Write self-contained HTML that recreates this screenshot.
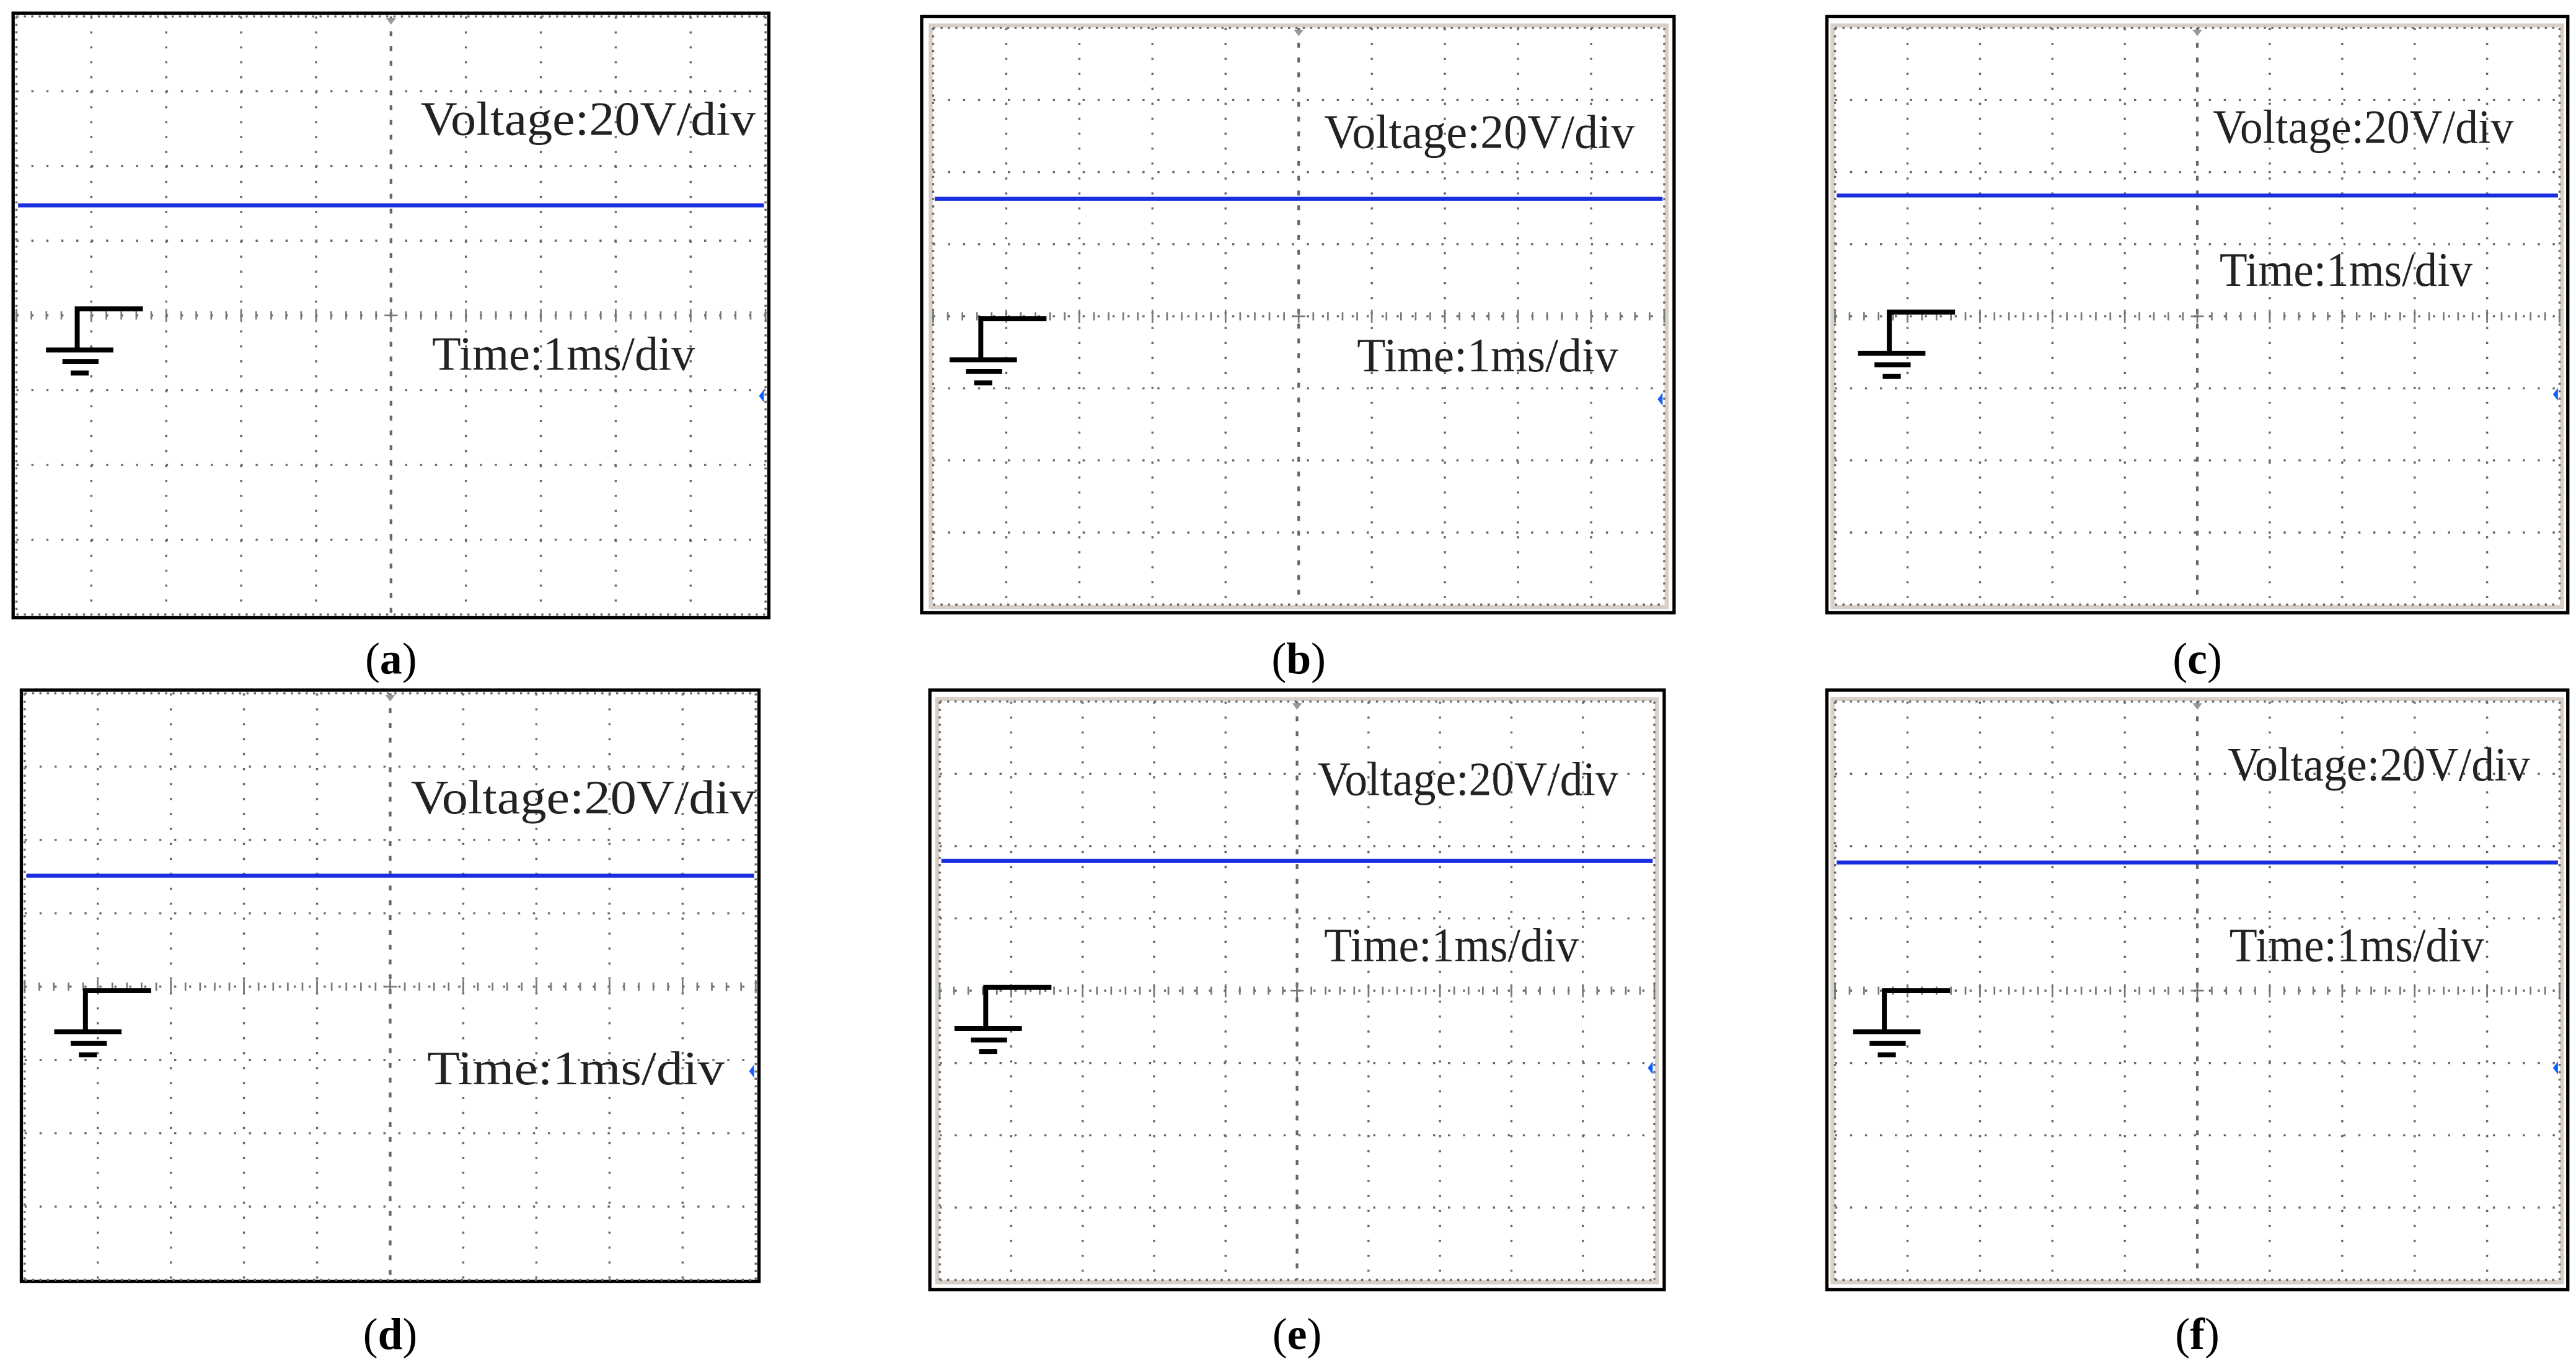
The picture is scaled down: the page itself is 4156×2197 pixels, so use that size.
<!DOCTYPE html>
<html><head><meta charset="utf-8"><style>
html,body{margin:0;padding:0;background:#fff;}
svg{display:block;}
</style></head><body>
<svg id="s" xmlns="http://www.w3.org/2000/svg" width="4156" height="2197" viewBox="0 0 1568 829" preserveAspectRatio="none"></svg>
<script>
const P=[
 {o:[8,8,460,368],g:[10,10,456,364],f:0,blue:125,v:[256,82,204],t:[263,225,160],gnd:[47,188],mk:241,cap:'a',cy:410},
 {o:[561,10,458,363],g:[568,17,445,351],f:1,blue:121,v:[806,90,189],t:[826,226,159],gnd:[597,194],mk:243,cap:'b',cy:410},
 {o:[1112,10,451,363],g:[1117,17,441,351],f:1,blue:119,v:[1347,87,183],t:[1351,174,154],gnd:[1150,190],mk:240,cap:'c',cy:410},
 {o:[13,420,449,360],g:[15,422,445,357],f:0,blue:533,v:[250,495,210],t:[260,660,181],gnd:[52,603],mk:652,cap:'d',cy:821},
 {o:[566,420,447,365],g:[572,427,435,352],f:1,blue:524,v:[802,484,183],t:[806,585,155],gnd:[600,601],mk:650,cap:'e',cy:821},
 {o:[1112,420,451,365],g:[1117,427,441,352],f:1,blue:525,v:[1356,475,184],t:[1357,585,155],gnd:[1147,603],mk:650,cap:'f',cy:821}
];
let h='';
for(const p of P){
 const [ox,oy,ow,oh]=p.o,[gx,gy,gw,gh]=p.g;
 h+=`<rect x="${ox}" y="${oy}" width="${ow}" height="${oh}" fill="#fff" stroke="#000" stroke-width="2"/>`;
 if(p.f) h+=`<rect x="${gx-1.5}" y="${gy-1.5}" width="${gw+3}" height="${gh+3}" fill="none" stroke="#d8d0c8" stroke-width="2.5"/>`;
 const dx=gw/10,dy=gh/8,cx=gx+gw/2,cy=gy+gh/2;
 for(let i=0;i<=10;i++){const x=gx+i*dx;
  h+=`<line x1="${x}" y1="${gy}" x2="${x}" y2="${gy+gh}" stroke="#666" stroke-width="${i==5?1.6:1.3}" stroke-dasharray="${i==5?'3 6':(i==0||i==10?'1.3 3.2':'1.3 7.8')}"/>`;}
 for(let j=0;j<=8;j++){const y=gy+j*dy;
  h+=`<line x1="${gx}" y1="${y}" x2="${gx+gw}" y2="${y}" stroke="#666" stroke-width="1.3" stroke-dasharray="${j==0||j==8?'1.3 3.2':'1.3 7.8'}"/>`;}
 for(let x=gx;x<=gx+gw;x+=dx/5){h+=`<line x1="${x}" y1="${cy-2.5}" x2="${x}" y2="${cy+2.5}" stroke="#777" stroke-width="1"/>`;}
 for(let i=0;i<=10;i++){const x=gx+i*dx;h+=`<line x1="${x}" y1="${cy-4}" x2="${x}" y2="${cy+4}" stroke="#777" stroke-width="1"/>`;}
 h+=`<line x1="${cx-4}" y1="${cy}" x2="${cx+4}" y2="${cy}" stroke="#777" stroke-width="1"/>`;
 h+=`<path d="M${cx-3} ${gy+1} L${cx+3} ${gy+1} L${cx} ${gy+5} Z" fill="#999"/>`;
 h+=`<line x1="${gx+1}" y1="${p.blue}" x2="${gx+gw-1}" y2="${p.blue}" stroke="#1a2ee0" stroke-width="2.4"/>`;
 h+=`<path d="M${gx+gw-1} ${p.mk-4} L${gx+gw-4} ${p.mk} L${gx+gw-1} ${p.mk+4} Z" fill="#1060ff"/>`;
 const [x0,y0]=p.gnd;
 h+=`<path d="M${x0+40} ${y0} H${x0} V${y0+25}" fill="none" stroke="#000" stroke-width="3"/>`;
 h+=`<line x1="${x0-19}" y1="${y0+25}" x2="${x0+22}" y2="${y0+25}" stroke="#000" stroke-width="3"/>`;
 h+=`<line x1="${x0-9}" y1="${y0+32}" x2="${x0+13}" y2="${y0+32}" stroke="#000" stroke-width="3"/>`;
 h+=`<line x1="${x0-4}" y1="${y0+39}" x2="${x0+7}" y2="${y0+39}" stroke="#000" stroke-width="3"/>`;
 h+=`<text x="${p.v[0]}" y="${p.v[1]}" textLength="${p.v[2]}" lengthAdjust="spacingAndGlyphs" font-family="Liberation Serif, serif" font-size="29" fill="#222">Voltage:20V/div</text>`;
 h+=`<text x="${p.t[0]}" y="${p.t[1]}" textLength="${p.t[2]}" lengthAdjust="spacingAndGlyphs" font-family="Liberation Serif, serif" font-size="29" fill="#222">Time:1ms/div</text>`;
 h+=`<text x="${cx}" y="${p.cy}" text-anchor="middle" font-family="Liberation Serif, serif" font-size="27" fill="#000">(<tspan font-weight="bold">${p.cap}</tspan>)</text>`;
}
document.getElementById('s').innerHTML=h;
</script>
</body></html>
